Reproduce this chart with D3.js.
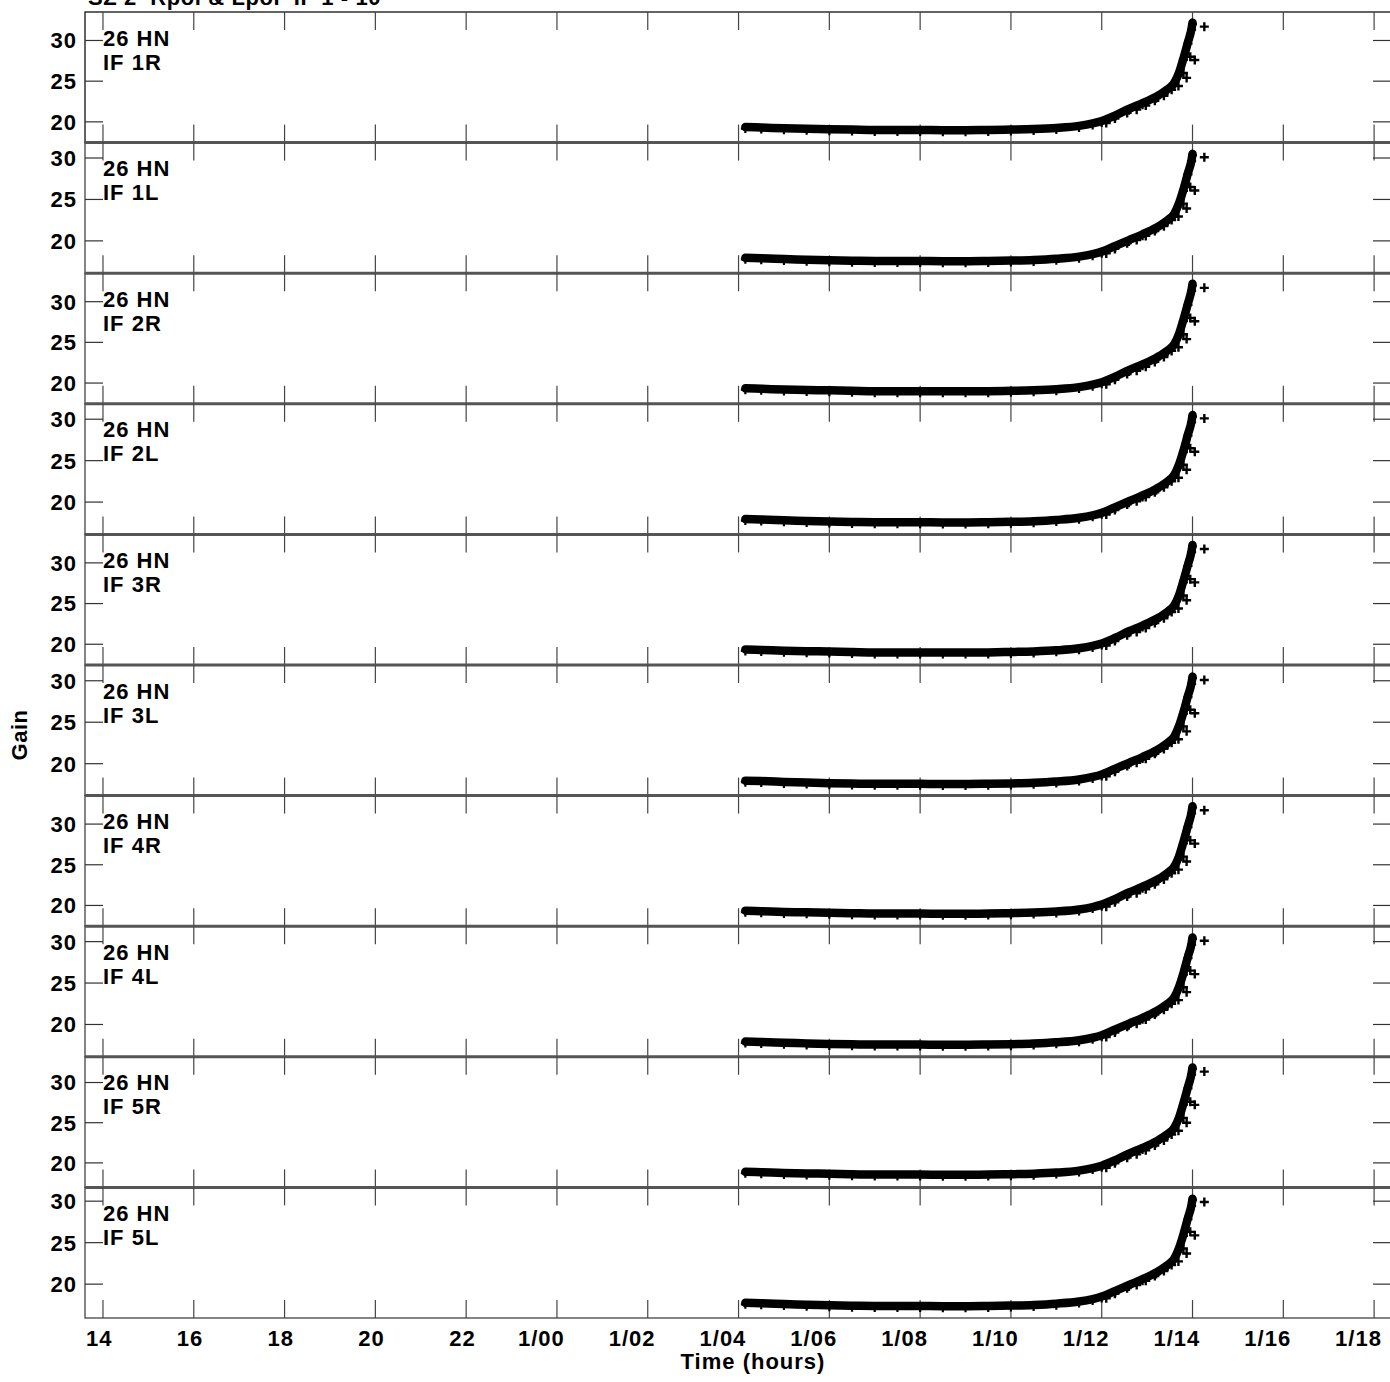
<!DOCTYPE html>
<html>
<head>
<meta charset="utf-8">
<script src="https://cdn.jsdelivr.net/npm/d3@7"></script>
<style>
  body { margin: 0; background: #fff; }
  text { font-family: "Liberation Sans", Arial, sans-serif; font-weight: bold; fill: #000; font-size: 22px; letter-spacing: 1px; }
</style>
</head>
<body>
<script>
// Panel names (one per IF / polarisation)
var panelNames = ["IF 1R", "IF 1L", "IF 2R", "IF 2L", "IF 3R", "IF 3L", "IF 4R", "IF 4L", "IF 5R", "IF 5L"];
var antennaName = "26 HN";

// y range of each panel (gain)
var yLow  = [17.45, 16.1, 17.45, 16.1, 17.45, 16.15, 17.45, 16.1, 16.95, 15.92];
var yHigh = [33.5, 31.86, 33.5, 31.86, 33.5, 31.9, 33.5, 31.86, 33.2, 31.66];

// x axis ticks (hours, second day shown as 1/hh)
var timeTicks = [14, 16, 18, 20, 22, 24, 26, 28, 30, 32, 34, 36, 38, 40, 42];
var timeTickLabels = ["14", "16", "18", "20", "22", "1/00", "1/02", "1/04", "1/06", "1/08", "1/10", "1/12", "1/14", "1/16", "1/18"];
var gainTicks = [20, 25, 30];

// main band of solutions: time (hours) and gain per panel type
var bandTime = [28.15, 28.5, 29, 29.5, 30, 30.5, 31, 31.5, 32, 32.5, 33, 33.5, 34, 34.5, 35, 35.5, 35.8, 36, 36.3, 36.6, 36.9, 37.2, 37.45, 37.6, 37.7, 37.8, 37.9, 37.98, 38.0];
var gainR  = [19.36, 19.3, 19.2, 19.15, 19.1, 19.05, 19.0, 19.0, 19.0, 18.98, 18.98, 19.0, 19.05, 19.12, 19.25, 19.5, 19.8, 20.1, 20.8, 21.6, 22.3, 23.1, 24.0, 24.8, 26.0, 27.8, 29.8, 31.5, 32.2];
var gainL  = [17.95, 17.9, 17.8, 17.72, 17.65, 17.6, 17.58, 17.58, 17.57, 17.55, 17.55, 17.58, 17.62, 17.7, 17.85, 18.1, 18.4, 18.7, 19.4, 20.1, 20.8, 21.6, 22.5, 23.3, 24.5, 26.2, 28.2, 29.8, 30.5];
var gain5R = [18.9, 18.84, 18.74, 18.69, 18.64, 18.59, 18.54, 18.54, 18.54, 18.52, 18.52, 18.54, 18.59, 18.66, 18.79, 19.04, 19.35, 19.65, 20.35, 21.16, 21.86, 22.67, 23.58, 24.39, 25.6, 27.42, 29.45, 31.17, 31.88];
var gain5L = [17.75, 17.7, 17.6, 17.52, 17.45, 17.4, 17.38, 17.38, 17.37, 17.35, 17.35, 17.38, 17.42, 17.5, 17.65, 17.9, 18.2, 18.5, 19.2, 19.9, 20.6, 21.4, 22.3, 23.1, 24.3, 26.0, 28.0, 29.6, 30.3];

// scattered low points at the end of the track
var outTime  = [36.1, 36.29, 36.56, 36.77, 36.97, 37.17, 37.37, 37.54, 37.69, 37.8, 37.87, 37.95, 38.05, 38.26];
var outR  = [19.85, 20.4, 21.1, 21.5, 22.0, 22.6, 23.2, 23.95, 24.4, 26.0, 25.4, 28.0, 27.6, 31.7];
var outL  = [18.49, 19.03, 19.72, 20.1, 20.6, 21.19, 21.78, 22.51, 22.94, 24.5, 23.9, 26.5, 26.08, 30.1];
var out5R = [19.39, 19.95, 20.65, 21.06, 21.56, 22.17, 22.78, 23.54, 23.99, 25.6, 25.0, 27.6, 27.22, 31.36];
var out5L = [18.29, 18.83, 19.52, 19.9, 20.4, 20.99, 21.58, 22.31, 22.74, 24.3, 23.7, 26.3, 25.88, 29.9];

var bandGains = [gainR, gainL, gainR, gainL, gainR, gainL, gainR, gainL, gain5R, gain5L];
var outGains  = [outR, outL, outR, outL, outR, outL, outR, outL, out5R, out5L];

var svgWidth = 1390;
var svgHeight = 1382;
var plotLeft = 85, plotRight = 1391, plotTop = 12, plotBottom = 1318;
var panelHeight = (plotBottom - plotTop) / panelNames.length;
var tickLen = 18;

var svg = d3.select("body").append("svg")
  .attr("width", svgWidth)
  .attr("height", svgHeight);

var x = d3.scaleLinear().domain([13.604, 42.35]).range([85, 1390]);

// title (mostly above the page)
svg.append("text")
  .attr("x", 88).attr("y", 5)
  .attr("xml:space", "preserve")
  .style("white-space", "pre")
  .style("letter-spacing", "0.6px")
  .text("SZ 2  Rpol & Lpol  IF 1 - 10");

var plus = "M-4.5,0H4.5M0,-4.5V4.5";

panelNames.forEach(function(name, i) {
  var top = plotTop + i * panelHeight;
  var bottom = top + panelHeight;
  var y = d3.scaleLinear().domain([yLow[i], yHigh[i]]).range([bottom, top]);
  var g = svg.append("g");

  // frame
  g.append("rect")
    .attr("x", plotLeft).attr("y", top)
    .attr("width", plotRight - plotLeft).attr("height", panelHeight)
    .attr("fill", "none")
    .attr("stroke", i == 0 ? "#111" : "#444")
    .attr("stroke-width", 1.3);
  if (i > 0) {
    g.append("line")
      .attr("x1", plotLeft).attr("x2", plotRight)
      .attr("y1", top).attr("y2", top)
      .attr("stroke", "#555").attr("stroke-width", 3);
  }

  // x ticks top and bottom
  timeTicks.forEach(function(t) {
    g.append("line").attr("x1", x(t)).attr("x2", x(t))
      .attr("y1", top).attr("y2", top + tickLen)
      .attr("stroke", "#444").attr("stroke-width", 1.2);
    g.append("line").attr("x1", x(t)).attr("x2", x(t))
      .attr("y1", bottom - tickLen).attr("y2", bottom)
      .attr("stroke", "#444").attr("stroke-width", 1.2);
  });

  // y ticks left and right
  gainTicks.forEach(function(v) {
    g.append("line").attr("x1", plotLeft).attr("x2", plotLeft + tickLen)
      .attr("y1", y(v)).attr("y2", y(v))
      .attr("stroke", "#333").attr("stroke-width", 1.2);
    g.append("line").attr("x1", plotRight - tickLen).attr("x2", plotRight)
      .attr("y1", y(v)).attr("y2", y(v))
      .attr("stroke", "#333").attr("stroke-width", 1.2);
    g.append("text")
      .attr("x", 77).attr("y", y(v)).attr("dy", "0.36em")
      .attr("text-anchor", "end")
      .text(v);
  });

  // panel labels
  g.append("text").attr("x", 103).attr("y", top + 33.5).text(antennaName);
  g.append("text").attr("x", 103).attr("y", top + 57.5).text(name);

  var pts = bandTime.map(function(t, k) { return [t, bandGains[i][k]]; });
  var drawLine = d3.line()
    .x(function(d) { return x(d[0]); })
    .y(function(d) { return y(d[1]); })
    .curve(d3.curveMonotoneX);

  g.append("path")
    .attr("d", drawLine(pts))
    .attr("fill", "none")
    .attr("stroke", "#000")
    .attr("stroke-width", 8.5)
    .attr("stroke-linecap", "round")
    .attr("stroke-linejoin", "round");

  g.selectAll(".pt")
    .data(pts)
    .enter().append("path")
    .attr("d", plus)
    .attr("transform", function(d) { return "translate(" + x(d[0]) + "," + (y(d[1]) + 1.5) + ")"; })
    .attr("stroke", "#000").attr("stroke-width", 2.2);

  var outPts = outTime.map(function(t, k) { return [t, outGains[i][k]]; });
  g.selectAll(".out")
    .data(outPts)
    .enter().append("path")
    .attr("d", plus)
    .attr("transform", function(d) { return "translate(" + x(d[0]) + "," + y(d[1]) + ")"; })
    .attr("stroke", "#000").attr("stroke-width", 2.4);
});

// bottom axis labels, placed the way the original plot offsets them
timeTicks.forEach(function(t, k) {
  var lab = timeTickLabels[k];
  svg.append("text")
    .attr("x", x(t) - (lab.length > 2 ? 39 : 17)).attr("y", 1346)
    .attr("text-anchor", "start")
    .text(lab);
});

svg.append("text")
  .attr("x", 753).attr("y", 1369)
  .attr("text-anchor", "middle")
  .text("Time (hours)");

svg.append("text")
  .attr("transform", "translate(27,735) rotate(-90)")
  .attr("text-anchor", "middle")
  .style("letter-spacing", "0.5px")
  .text("Gain");
</script>
</body>
</html>
